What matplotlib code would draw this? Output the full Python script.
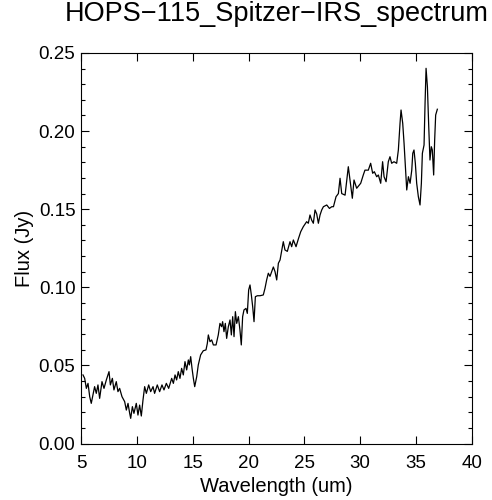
#!/usr/bin/env python3

import numpy as np
import matplotlib
matplotlib.use("Agg")
import matplotlib.pyplot as plt
from matplotlib.ticker import MultipleLocator, FormatStrFormatter

# wavelength (um) and flux (Jy)
wavelength = [
    5.18, 5.33, 5.48, 5.63, 5.78, 5.92, 6.07, 6.22, 6.37, 6.52, 6.67, 6.88,
    7.06, 7.27, 7.51, 7.63, 7.81, 7.95, 8.16, 8.31, 8.46, 8.67, 8.91, 9.06,
    9.21, 9.36, 9.45, 9.60, 9.74, 9.95, 10.10, 10.25, 10.40, 10.55, 10.70,
    10.85, 11.06, 11.24, 11.45, 11.59, 11.83, 12.04, 12.25, 12.43, 12.64,
    12.85, 13.12, 13.27, 13.42, 13.56, 13.71, 13.86, 14.01, 14.16, 14.31,
    14.46, 14.61, 14.70, 14.82, 14.94, 15.06, 15.18, 15.36, 15.50, 15.71,
    15.95, 16.19, 16.31, 16.40, 16.55, 16.70, 16.85, 17.09, 17.29, 17.44,
    17.59, 17.68, 17.80, 17.92, 18.04, 18.19, 18.34, 18.46, 18.58, 18.70,
    18.82, 18.94, 19.09, 19.23, 19.35, 19.47, 19.59, 19.77, 19.89, 20.01,
    20.13, 20.25, 20.37, 20.49, 20.61, 20.79, 21.03, 21.32, 21.47, 21.62,
    21.77, 21.92, 22.22, 22.37, 22.52, 22.67, 22.82, 23.11, 23.26, 23.47,
    23.71, 23.86, 24.01, 24.25, 24.46, 24.67, 24.90, 25.20, 25.35, 25.50,
    25.65, 25.80, 25.95, 26.10, 26.25, 26.40, 26.55, 26.70, 27.00, 27.24,
    27.45, 27.60, 27.83, 28.04, 28.19, 28.34, 28.64, 28.93, 29.08, 29.29,
    29.44, 29.68, 30.04, 30.27, 30.42, 30.72, 30.93, 31.11, 31.26, 31.47,
    31.62, 31.83, 32.00, 32.13, 32.31, 32.51, 32.66, 32.81, 33.02, 33.26,
    33.41, 33.56, 33.65, 33.80, 33.92, 34.04, 34.16, 34.31, 34.46, 34.61,
    34.70, 34.81, 34.93, 35.05, 35.20, 35.35, 35.47, 35.56, 35.71, 35.80,
    35.89, 36.01, 36.13, 36.24, 36.36, 36.45, 36.57, 36.66, 36.75, 36.90,
]
flux = [
    0.0439, 0.0417, 0.0353, 0.0385, 0.0300, 0.0257, 0.0311, 0.0364, 0.0321,
    0.0375, 0.0289, 0.0396, 0.0353, 0.0407, 0.0460, 0.0375, 0.0417, 0.0343,
    0.0396, 0.0332, 0.0353, 0.0300, 0.0268, 0.0214, 0.0257, 0.0193, 0.0161,
    0.0236, 0.0193, 0.0257, 0.0182, 0.0246, 0.0176, 0.0278, 0.0364, 0.0321,
    0.0375, 0.0332, 0.0364, 0.0321, 0.0375, 0.0332, 0.0375, 0.0343, 0.0385,
    0.0353, 0.0417, 0.0385, 0.0439, 0.0407, 0.0460, 0.0417, 0.0481, 0.0439,
    0.0524, 0.0471, 0.0535, 0.0503, 0.0556, 0.0481, 0.0417, 0.0364, 0.0428,
    0.0503, 0.0567, 0.0594, 0.0599, 0.0641, 0.0695, 0.0652, 0.0663, 0.0631,
    0.0631, 0.0695, 0.0769, 0.0748, 0.0780, 0.0716, 0.0769, 0.0673, 0.0748,
    0.0791, 0.0695, 0.0812, 0.0684, 0.0844, 0.0769, 0.0812, 0.0727, 0.0631,
    0.0812, 0.0855, 0.0865, 0.0833, 0.0983, 0.1015, 0.0951, 0.0876, 0.0780,
    0.0940, 0.0946, 0.0946, 0.0951, 0.0993, 0.1047, 0.1090, 0.1070, 0.1130,
    0.1100, 0.1047, 0.1154, 0.1175, 0.1292, 0.1239, 0.1230, 0.1292, 0.1260,
    0.1303, 0.1260, 0.1310, 0.1356, 0.1388, 0.1420, 0.1410, 0.1463, 0.1430,
    0.1410, 0.1495, 0.1470, 0.1410, 0.1463, 0.1495, 0.1516, 0.1527, 0.1505,
    0.1516, 0.1516, 0.1580, 0.1600, 0.1698, 0.1600, 0.1590, 0.1772, 0.1690,
    0.1570, 0.1687, 0.1634, 0.1666, 0.1719, 0.1750, 0.1750, 0.1794, 0.1730,
    0.1740, 0.1708, 0.1719, 0.1666, 0.1804, 0.1708, 0.1676, 0.1804, 0.1836,
    0.1794, 0.1804, 0.1794, 0.1879, 0.2050, 0.2135, 0.2050, 0.1922, 0.1772,
    0.1623, 0.1708, 0.1666, 0.1750, 0.1858, 0.1879, 0.1794, 0.1666, 0.1580,
    0.1527, 0.1666, 0.1858, 0.1911, 0.2178, 0.2402, 0.2284, 0.2028, 0.1815,
    0.1900, 0.1879, 0.1719, 0.1943, 0.2103, 0.2140,
]

plt.rcParams['font.family'] = ['Liberation Sans', 'DejaVu Sans']

fig = plt.figure(figsize=(4.92, 5.0), dpi=100)
ax = fig.add_axes([0.1646, 0.113, 0.7947, 0.781])

ax.plot(wavelength, flux, color='black', linewidth=0.9)

ax.set_xlim(5, 40)
ax.set_ylim(0.0, 0.25)
ax.xaxis.set_major_locator(MultipleLocator(5))
ax.yaxis.set_major_locator(MultipleLocator(0.05))
ax.yaxis.set_minor_locator(MultipleLocator(0.01))
ax.yaxis.set_major_formatter(FormatStrFormatter('%.2f'))

ax.tick_params(which='both', direction='in', top=True, right=True, labelsize=13.5)
ax.tick_params(which='major', length=5.5, width=0.8)
ax.tick_params(axis='x', which='major', pad=8)
ax.tick_params(axis='y', which='major', pad=4)
ax.tick_params(which='minor', length=3, width=0.8)
for s in ax.spines.values():
    s.set_linewidth(0.8)

ax.set_xlabel('Wavelength (um)', fontsize=14.5, labelpad=4)
ax.set_ylabel('Flux (Jy)', fontsize=14.5, labelpad=3.5)
ax.set_title('HOPS\u2212115_Spitzer\u2212IRS_spectrum', fontsize=19.5, pad=23)

plt.savefig('out.png', dpi=100)
